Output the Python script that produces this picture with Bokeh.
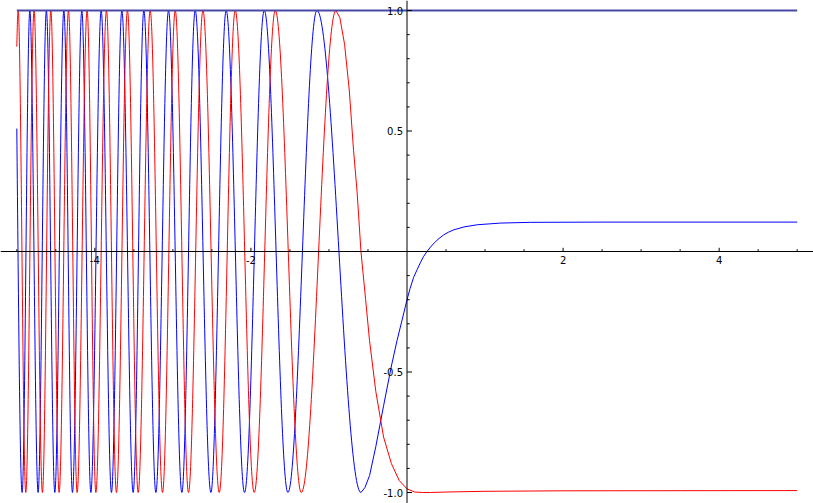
from bokeh.plotting import figure
from bokeh.models import Range1d, Span
from bokeh.core.properties import value
from bokeh.embed import file_html
from bokeh.resources import INLINE

# ---------------- data ----------------
# blue curve: value at left edge, then successive extrema, then the slow tail
blue_start_x = -5.0
blue_start_y = 0.51
blue_ext_x = [-4.932, -4.833, -4.727, -4.621, -4.513, -4.397, -4.287, -4.167, -4.051,
              -3.919, -3.787, -3.654, -3.509, -3.372, -3.218, -3.056, -2.885, -2.714,
              -2.513, -2.317, -2.082, -1.829, -1.526, -1.154, -0.590]
blue_ext_y = [-1, 1, -1, 1, -1, 1, -1, 1, -1, 1, -1, 1, -1, 1, -1, 1, -1, 1, -1, 1,
              -1, 1, -1, 1, -1]
blue_tail_x = [-0.59, -0.54, -0.48, -0.40, -0.30, -0.20, -0.128, -0.06, 0.0, 0.04,
               0.085, 0.13, 0.17, 0.21, 0.256, 0.30, 0.35, 0.41, 0.47, 0.53, 0.60,
               0.73, 0.90, 1.20, 1.58, 2.50, 5.0]
blue_tail_y = [-1.0, -0.98, -0.93, -0.81, -0.64, -0.475, -0.37, -0.28, -0.20, -0.153,
               -0.107, -0.075, -0.047, -0.022, 0.0, 0.018, 0.036, 0.054, 0.069, 0.080,
               0.090, 0.102, 0.111, 0.118, 0.121, 0.122, 0.122]

# red curve
red_start_x = -5.0
red_start_y = 0.85
red_ext_x = [-4.983, -4.885, -4.779, -4.672, -4.564, -4.458, -4.338, -4.227, -4.099,
             -3.987, -3.851, -3.723, -3.582, -3.445, -3.291, -3.133, -2.970, -2.800,
             -2.615, -2.406, -2.201, -1.958, -1.688, -1.355, -0.910]
red_ext_y = [1, -1, 1, -1, 1, -1, 1, -1, 1, -1, 1, -1, 1, -1, 1, -1, 1, -1, 1, -1,
             1, -1, 1, -1, 1]
red_tail_x = [-0.91, -0.86, -0.80, -0.74, -0.685, -0.64, -0.59, -0.53, -0.48, -0.40,
              -0.30, -0.20, -0.10, 0.0, 0.10, 0.20, 0.30, 0.50, 1.0, 2.0, 3.5, 5.0]
red_tail_y = [1.0, 0.97, 0.86, 0.67, 0.42, 0.25, 0.0, -0.20, -0.37, -0.58, -0.77,
              -0.88, -0.95, -0.985, -0.998, -1.0, -1.0, -0.998, -0.995, -0.993,
              -0.9925, -0.992]

# constant curve
unit_x = [-5.0, 5.0]
unit_y = [1.0, 1.0]

# axes ticks
x_ticks = [-5.0, -4.5, -4.0, -3.5, -3.0, -2.5, -2.0, -1.5, -1.0, -0.5,
           0.5, 1.0, 1.5, 2.0, 2.5, 3.0, 3.5, 4.0, 4.5, 5.0]
x_major = [-4.0, -2.0, 2.0, 4.0]
x_tick_labels = ["-4", "-2", "2", "4"]
y_ticks = [-1.0, -0.9, -0.8, -0.7, -0.6, -0.5, -0.4, -0.3, -0.2, -0.1,
           0.1, 0.2, 0.3, 0.4, 0.5, 0.6, 0.7, 0.8, 0.9, 1.0]
y_major = [-1.0, -0.5, 0.5, 1.0]
y_tick_labels = ["-1.0", "-0.5", "0.5", "1.0"]

# ---------------- figure ----------------
W, H = 813, 503
x0r, x1r = -5.2089, 5.2089
y0r, y1r = -1.0456, 1.0415
p = figure(width=W, height=H, x_range=Range1d(x0r, x1r), y_range=Range1d(y0r, y1r),
           output_backend="svg", toolbar_location=None,
           x_axis_location=None, y_axis_location=None, min_border=0,
           outline_line_color=None, background_fill_color="white")
p.grid.visible = False

ppx = W / (x1r - x0r)   # pixels per x unit
ppy = H / (y1r - y0r)   # pixels per y unit

K = 0.3634  # cubic approximation of a half cosine between extrema


def bezier_chain(sx, sy, ex, ey):
    xs = [sx] + ex
    ys = [sy] + ey
    d = dict(x0=[], y0=[], x1=[], y1=[], cx0=[], cy0=[], cx1=[], cy1=[])
    for i in range(len(xs) - 1):
        a, b = xs[i], xs[i + 1]
        ya, yb = ys[i], ys[i + 1]
        w = b - a
        d["x0"].append(a); d["y0"].append(ya)
        d["x1"].append(b); d["y1"].append(yb)
        if i == 0:
            d["cx0"].append(a + w / 3); d["cy0"].append(ya + (yb - ya) * 0.5)
        else:
            d["cx0"].append(a + K * w); d["cy0"].append(ya)
        d["cx1"].append(b - K * w); d["cy1"].append(yb)
    return d


bb = bezier_chain(blue_start_x, blue_start_y, blue_ext_x, blue_ext_y)
p.bezier(line_color="#0000ff", line_width=1, **bb)
p.line(blue_tail_x, blue_tail_y, line_color="#0000ff", line_width=1)

rb = bezier_chain(red_start_x, red_start_y, red_ext_x, red_ext_y)
p.bezier(line_color="#ff0000", line_width=1, **rb)
p.line(red_tail_x, red_tail_y, line_color="#ff0000", line_width=1)

p.line(unit_x, unit_y, line_color="#4a4aa6", line_width=1.8)

# axes through the origin
p.add_layout(Span(location=0, dimension="width", line_color="black", line_width=1))
p.add_layout(Span(location=0, dimension="height", line_color="black", line_width=1))

# x ticks (upwards)
x_len = [(3.7 if t in x_major else 2.3) / ppy for t in x_ticks]
p.segment(x0=x_ticks, y0=[0] * len(x_ticks), x1=x_ticks, y1=x_len,
          line_color="black", line_width=1)
# y ticks (to the right)
y_len = [(5.0 if t in y_major else 2.7) / ppx for t in y_ticks]
p.segment(x0=[0] * len(y_ticks), y0=y_ticks, x1=y_len, y1=y_ticks,
          line_color="black", line_width=1)

font = value("DejaVu Sans")
p.text(x=x_major, y=[0] * len(x_major), text=x_tick_labels, text_align="center",
       text_baseline="top", y_offset=4, text_font=font, text_font_size="10px",
       text_color="black")
p.text(x=[0] * len(y_major), y=y_major, text=y_tick_labels, text_align="right",
       text_baseline="middle", x_offset=-4, text_font=font, text_font_size="10px",
       text_color="black")

open("out.html", "w").write(file_html(p, INLINE))
